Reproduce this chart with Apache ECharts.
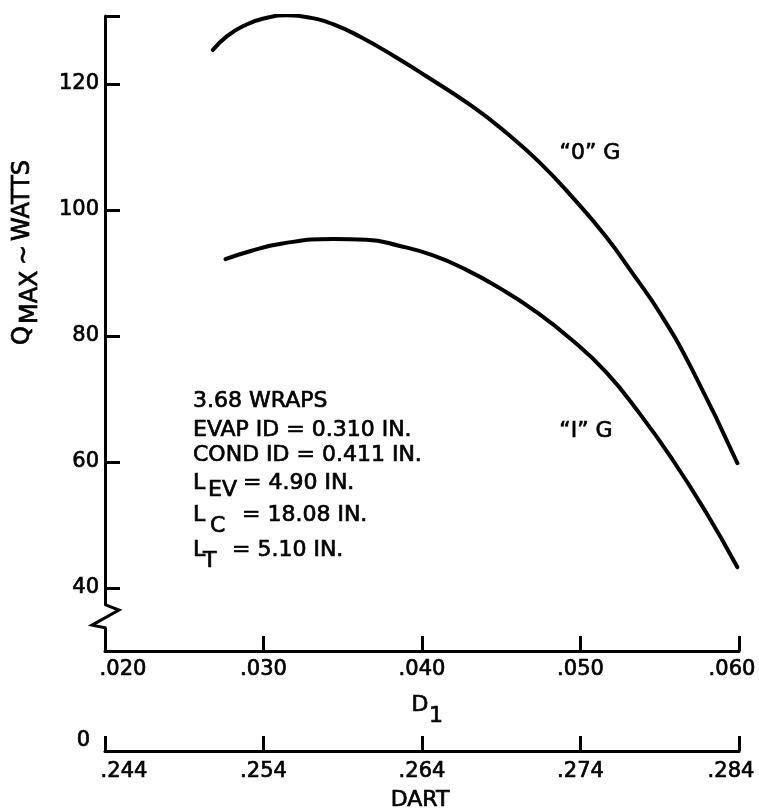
<!DOCTYPE html>
<html>
<head>
<meta charset="utf-8">
<script src="https://cdn.jsdelivr.net/npm/echarts@6/dist/echarts.min.js"></script>
<style>
  html, body { margin: 0; padding: 0; background: #fff; }
  #chart { width: 759px; height: 811px; }
</style>
</head>
<body>
<div id="chart"></div>
<script>
// Qmax (watts) against dart land D1 (in.), zero-g and one-g curves
const d1ZeroG = [0.0268, 0.0277, 0.0288, 0.0300, 0.0315, 0.0330, 0.0345, 0.0361, 0.0382, 0.0403,
                 0.0432, 0.0453, 0.0474, 0.0495, 0.0516, 0.0533, 0.0550, 0.0570, 0.0599];
const qZeroG  = [125.4, 127.6, 129.3, 130.4, 130.9, 130.5, 129.4, 127.5, 124.5, 121.2,
                 116.4, 112.3, 107.6, 102.0, 95.8, 89.9, 83.7, 74.9, 59.8];

const d1OneG = [0.0276, 0.0292, 0.0312, 0.0344, 0.0365, 0.0386, 0.0407, 0.0428, 0.0449, 0.0470,
                0.0495, 0.0516, 0.0537, 0.0558, 0.0579, 0.0599];
const qOneG  = [92.2, 93.5, 94.7, 95.4, 95.3, 94.3, 92.8, 90.5, 87.6, 84.2,
                79.3, 74.3, 67.8, 60.4, 52.1, 43.3];

// axis scales
const qTicks = [40, 60, 80, 100, 120];
const qMin = 30, qMax = 130.8;
const d1Ticks = [0.020, 0.030, 0.040, 0.050, 0.060];
const dartTicks = [0.244, 0.254, 0.264, 0.274, 0.284];

// design parameters listed beside the curves
const paramLines = ['3.68 WRAPS', 'EVAP ID = 0.310 IN.', 'COND ID = 0.411 IN.'];
const lengthLines = [
  { sym: 'L', sub: 'EV', rest: '= 4.90 IN.' },
  { sym: 'L', sub: 'C',  rest: '= 18.08 IN.' },
  { sym: 'L', sub: 'T',  rest: '= 5.10 IN.' }
];
const curveNames = ['\u201C0\u201D G', '\u201CI\u201D G'];

const FONT = '"DejaVu Sans", "Liberation Sans", Arial, sans-serif';
const INK = '#000';
const HEAVY = 0.7;   // thin outline to give the lettering its heavier weight

const fmtDec = v => v.toFixed(3).replace(/^0/, '');

function pairs(xs, ys) { return xs.map((x, i) => [x, ys[i]]); }

function edgeLabels(ticks, leftPad, rightPad, size) {
  const lo = ticks[0], hi = ticks[ticks.length - 1];
  const base = { fontFamily: FONT, fontSize: size, color: INK,
                 textBorderColor: INK, textBorderWidth: HEAVY };
  return {
    formatter: v => {
      const s = fmtDec(v);
      if (Math.abs(v - lo) < 1e-9) return '{first|' + s + '}';
      if (Math.abs(v - hi) < 1e-9) return '{last|' + s + '}';
      return s;
    },
    rich: {
      first: Object.assign({ padding: [0, 0, 0, leftPad] }, base),
      last:  Object.assign({ padding: [0, rightPad, 0, 0] }, base)
    }
  };
}

const labelBase = { color: INK, fontFamily: FONT, fontSize: 21,
                    textBorderColor: INK, textBorderWidth: HEAVY };

const chart = echarts.init(document.getElementById('chart'), null, { renderer: 'canvas' });

const mainLbl = edgeLabels(d1Ticks, 36, 14, 21);
const dartLbl = edgeLabels(dartTicks, 38, 16, 21);

chart.setOption({
  animation: false,
  backgroundColor: '#fff',
  grid: [
    { left: 105, right: 20, top: 16, bottom: 811 - 651, containLabel: false },
    { left: 105, right: 20, top: 735, height: 16, containLabel: false }
  ],
  xAxis: [
    {
      gridIndex: 0, type: 'value', min: d1Ticks[0], max: d1Ticks[d1Ticks.length - 1],
      axisLine: { show: true, onZero: false, lineStyle: { color: INK, width: 3 } },
      axisTick: { show: true, inside: true, length: 15, customValues: d1Ticks,
                  lineStyle: { color: INK, width: 3 } },
      axisLabel: Object.assign({ customValues: d1Ticks, margin: 8,
                   formatter: mainLbl.formatter, rich: mainLbl.rich }, labelBase),
      splitLine: { show: false }
    },
    {
      gridIndex: 1, type: 'value', min: dartTicks[0], max: dartTicks[dartTicks.length - 1],
      axisLine: { show: true, onZero: false, lineStyle: { color: INK, width: 3 } },
      axisTick: { show: true, inside: true, length: 15, customValues: dartTicks,
                  lineStyle: { color: INK, width: 3 } },
      axisLabel: Object.assign({ customValues: dartTicks, margin: 10,
                   formatter: dartLbl.formatter, rich: dartLbl.rich }, labelBase),
      splitLine: { show: false }
    }
  ],
  yAxis: [
    {
      gridIndex: 0, type: 'value', min: qMin, max: qMax,
      axisLine: { show: true, onZero: false, lineStyle: { color: INK, width: 3 } },
      axisTick: { show: true, inside: true, length: 15, customValues: qTicks.concat([qMax]),
                  lineStyle: { color: INK, width: 3 } },
      axisLabel: Object.assign({ customValues: qTicks, margin: 6 }, labelBase),
      splitLine: { show: false }
    },
    {
      gridIndex: 1, type: 'value', min: 0, max: 1,
      axisLine: { show: false }, axisTick: { show: false }, splitLine: { show: false },
      axisLabel: Object.assign({ customValues: [0], margin: 15, verticalAlign: 'bottom' }, labelBase)
    }
  ],
  series: [
    {
      name: curveNames[0], type: 'line', xAxisIndex: 0, yAxisIndex: 0,
      data: pairs(d1ZeroG, qZeroG), smooth: 0.5, symbol: 'none',
      lineStyle: { color: INK, width: 4, cap: 'round', join: 'round' }
    },
    {
      name: curveNames[1], type: 'line', xAxisIndex: 0, yAxisIndex: 0,
      data: pairs(d1OneG, qOneG), smooth: 0.5, symbol: 'none',
      lineStyle: { color: INK, width: 4, cap: 'round', join: 'round' }
    }
  ]
});

// ---- annotations ----
function txt(text, x, y, size, align) {
  return {
    type: 'text', x: x, y: y, z: 100,
    style: {
      text: text, fill: INK, stroke: INK, lineWidth: HEAVY,
      font: size + 'px ' + FONT,
      align: align || 'left', verticalAlign: 'middle',
      textAlign: align || 'left', textVerticalAlign: 'middle'
    }
  };
}

const g = [];

// parameter block
const blockX = 193;
const paramY = [401, 430.5, 455.5];
paramLines.forEach((s, i) => g.push(txt(s, blockX, paramY[i], 22)));
const lenY = [483, 515.5, 550.5];
const subDY = [7.5, 11, 11];
const subX = [208, 210, 203];
const restX = [243, 242, 232];
lengthLines.forEach((ln, i) => {
  g.push(txt(ln.sym, blockX, lenY[i], 22));
  g.push(txt(ln.sub, subX[i], lenY[i] + subDY[i], 22));
  g.push(txt(ln.rest, restX[i], lenY[i], 22));
});

// curve names
g.push(txt(curveNames[0], 590, 153, 22, 'center'));
g.push(txt(curveNames[1], 586, 431, 22, 'center'));

// axis titles
g.push(txt('D', 420, 705.5, 22, 'center'));
g.push(txt('1', 436, 716, 22, 'center'));
g.push(txt('DART', 420, 800, 22, 'center'));

// rotated y-axis title: Q with subscript MAX ~ WATTS
g.push({
  type: 'group', x: 23, y: 345, rotation: Math.PI / 2, z: 100,
  children: [
    txt('Q', 0, 0, 24),
    txt('MAX', 21, 8, 24),
    txt('~', 80, 2, 24),
    txt('WATTS', 104, 0, 24)
  ]
});

// broken-scale mark on the Q axis between 30 and 40
const px = v => chart.convertToPixel({ gridIndex: 0 }, [d1Ticks[0], v]);
const a = px(37.2), b = px(36.5), c = px(34.1), d = px(33.7);
const ax = a[0];
g.push({
  type: 'rect', z: 99,
  shape: { x: ax - 5, y: a[1], width: 10, height: d[1] - a[1] },
  style: { fill: '#fff' }
});
g.push({
  type: 'polyline', z: 100,
  shape: { points: [[ax, a[1] - 1], [ax + 14, b[1]], [ax - 13, c[1]], [ax, d[1]], [ax, d[1] + 1]] },
  style: { stroke: INK, lineWidth: 3, fill: null, lineJoin: 'miter' }
});

chart.setOption({ graphic: g });
</script>
</body>
</html>
